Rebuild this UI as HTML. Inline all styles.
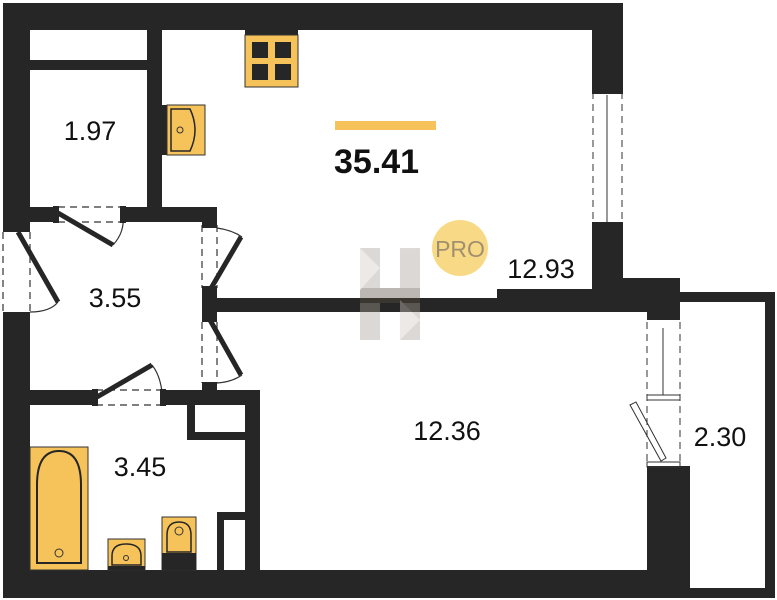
<!DOCTYPE html>
<html><head><meta charset="utf-8"><style>
html,body{margin:0;padding:0;background:#fff;}
svg{display:block;}
text{font-family:"Liberation Sans",sans-serif;}
</style></head><body>
<svg width="777" height="600" viewBox="0 0 777 600" xmlns="http://www.w3.org/2000/svg">
<g fill="#262626">
<rect x="3" y="3" width="620" height="27"/>
<rect x="3" y="3" width="27" height="225"/>
<rect x="3" y="315" width="27" height="283"/>
<rect x="30" y="60" width="117" height="10"/>
<rect x="147" y="30" width="15" height="192"/>
<rect x="30" y="207" width="25" height="15"/>
<rect x="125" y="207" width="92" height="15"/>
<rect x="202" y="207" width="15" height="15"/>
<rect x="202" y="290" width="15" height="28"/>
<rect x="202" y="385" width="15" height="20"/>
<rect x="210" y="298" width="290" height="14"/>
<rect x="497" y="289" width="100" height="23"/>
<rect x="592" y="3" width="31" height="87"/>
<rect x="592" y="225" width="31" height="87"/>
<rect x="592" y="278" width="88" height="34"/>
<rect x="647" y="312" width="33" height="8"/>
<rect x="647" y="466" width="33" height="132"/>
<rect x="3" y="570" width="677" height="28"/>
<rect x="30" y="390" width="63" height="15"/>
<rect x="165" y="390" width="95" height="15"/>
<rect x="245" y="390" width="15" height="180"/>
<rect x="187" y="405" width="8" height="35"/>
<rect x="187" y="432" width="58" height="8"/>
<rect x="217" y="512" width="28" height="8"/>
<rect x="217" y="512" width="7" height="58"/>
<!-- annex -->
<rect x="680" y="292" width="95" height="10"/>
<rect x="765" y="292" width="10" height="296"/>
<rect x="680" y="588" width="95" height="10"/>
<rect x="680" y="466" width="10" height="132"/>
</g>
<g stroke="#333" fill="none">
<line x1="593" y1="92" x2="593" y2="224" stroke-dasharray="7,5"/>
<line x1="622" y1="92" x2="622" y2="224" stroke-dasharray="7,5"/>
<line x1="607" y1="95" x2="607" y2="222"/>
</g>
<rect x="592" y="89" width="31" height="5" fill="#262626"/>
<rect x="592" y="222" width="31" height="5" fill="#262626"/>
<g stroke="#333" fill="none">
<line x1="647" y1="322" x2="647" y2="465" stroke-dasharray="7,5"/>
<line x1="680" y1="322" x2="680" y2="465" stroke-dasharray="7,5"/>
<line x1="663" y1="328" x2="663" y2="395"/>
<rect x="647" y="395" width="33" height="5"/>
<rect x="647" y="462" width="33" height="5"/>
<polygon points="630,405 636,402 666,458 661,461"/>
</g>
<g stroke="#333" fill="none" stroke-width="1.2">
<line x1="58" y1="207" x2="122" y2="207" stroke-dasharray="7,5"/>
<line x1="58" y1="222" x2="122" y2="222" stroke-dasharray="7,5"/>
<path d="M113,245 Q125,232 123,215"/>
<line x1="3" y1="232" x2="3" y2="312" stroke-dasharray="7,5"/>
<line x1="30" y1="232" x2="30" y2="312" stroke-dasharray="7,5"/>
<path d="M30,312 Q50,312 58,302"/>
<line x1="202" y1="225" x2="202" y2="288" stroke-dasharray="7,5"/>
<line x1="217" y1="225" x2="217" y2="288" stroke-dasharray="7,5"/>
<path d="M217,228 Q232,230 242,237"/>
<line x1="202" y1="322" x2="202" y2="383" stroke-dasharray="7,5"/>
<line x1="217" y1="322" x2="217" y2="383" stroke-dasharray="7,5"/>
<path d="M217,383 Q232,382 242,375"/>
<line x1="96" y1="390" x2="162" y2="390" stroke-dasharray="7,5"/>
<line x1="96" y1="405" x2="162" y2="405" stroke-dasharray="7,5"/>
<path d="M152,365 Q160,375 162,392"/>
</g>
<g stroke="#262626" stroke-width="5">
<line x1="58" y1="213" x2="113" y2="245"/>
<line x1="18" y1="232" x2="58" y2="302"/>
<line x1="210" y1="290" x2="241" y2="237"/>
<line x1="210" y1="320" x2="241" y2="375"/>
<line x1="97" y1="397" x2="152" y2="365"/>
</g>
<g fill="#262626">
<rect x="53" y="206" width="6" height="17"/><rect x="120" y="206" width="6" height="17"/>
<rect x="3" y="226" width="27" height="6"/><rect x="3" y="312" width="27" height="6"/>
<rect x="202" y="222" width="15" height="6"/><rect x="202" y="286" width="15" height="6"/>
<rect x="202" y="316" width="15" height="6"/><rect x="202" y="382" width="15" height="6"/>
<rect x="92" y="389" width="6" height="17"/><rect x="160" y="389" width="6" height="17"/>
</g>
<rect x="245" y="30" width="53" height="5" fill="#262626"/>
<rect x="245" y="35" width="53" height="52" fill="#f5c35a" stroke="#333"/>
<g fill="#262626"><rect x="252" y="42" width="16" height="16"/><rect x="275" y="42" width="16" height="16"/><rect x="252" y="64" width="16" height="16"/><rect x="275" y="64" width="16" height="16"/></g>
<rect x="162" y="105" width="5" height="50" fill="#262626"/>
<rect x="167" y="105" width="38" height="50" fill="#f5c35a" stroke="#333"/>
<path d="M171,109 H190 Q200,130 190,151 H171 Z" fill="none" stroke="#262626" stroke-width="1.5"/>
<circle cx="180" cy="130" r="3" fill="none" stroke="#333"/>
<rect x="30" y="447" width="58" height="123" fill="#f5c35a" stroke="#333"/>
<path d="M37,563 V485 Q37,451 59,451 Q81,451 81,485 V563 Z" fill="none" stroke="#262626" stroke-width="2"/>
<circle cx="59" cy="553" r="4" fill="none" stroke="#333"/>
<rect x="108" y="539" width="37" height="31" fill="#f5c35a" stroke="#333"/>
<rect x="108" y="566" width="37" height="4" fill="#262626"/>
<path d="M112,565 V556 Q112,544 126,544 Q141,544 141,556 V565 Z" fill="none" stroke="#262626" stroke-width="1.5"/>
<circle cx="126" cy="558" r="2.5" fill="none" stroke="#333"/>
<rect x="162" y="517" width="34" height="53" fill="#f5c35a" stroke="#333"/>
<rect x="162" y="553" width="34" height="17" fill="#262626"/>
<path d="M167,552 V535 Q167,522 179,522 Q191,522 191,535 V552 Z" fill="none" stroke="#262626" stroke-width="1.5"/>
<circle cx="179" cy="531" r="4" fill="none" stroke="#333"/>
<g opacity="0.4">
<polygon points="360,248 380,248 380,340 360,340" fill="#a8a098"/>
<polygon points="400,248 420,248 420,340 400,340" fill="#a8a098"/>
<polygon points="360,288 420,288 420,303 360,303" fill="#5a4e40"/>
<polygon points="360,248 380,268 360,290" fill="#d0cac2"/>
<polygon points="400,300 420,320 400,340" fill="#d0cac2"/>
</g>
<circle cx="460" cy="248" r="28" fill="#f8d985"/>
<text x="460" y="257" font-size="23" fill="#a09070" text-anchor="middle">PRO</text>
<rect x="335" y="121" width="101" height="9" fill="#f5c35a"/>
<text x="334" y="173" font-size="34" font-weight="bold" fill="#111">35.41</text>
<g font-size="27" fill="#111" text-anchor="middle">
<text x="90" y="140">1.97</text>
<text x="115" y="307">3.55</text>
<text x="541" y="278">12.93</text>
<text x="447" y="440">12.36</text>
<text x="720" y="446">2.30</text>
<text x="140" y="476">3.45</text>
</g>
</svg>
</body></html>
